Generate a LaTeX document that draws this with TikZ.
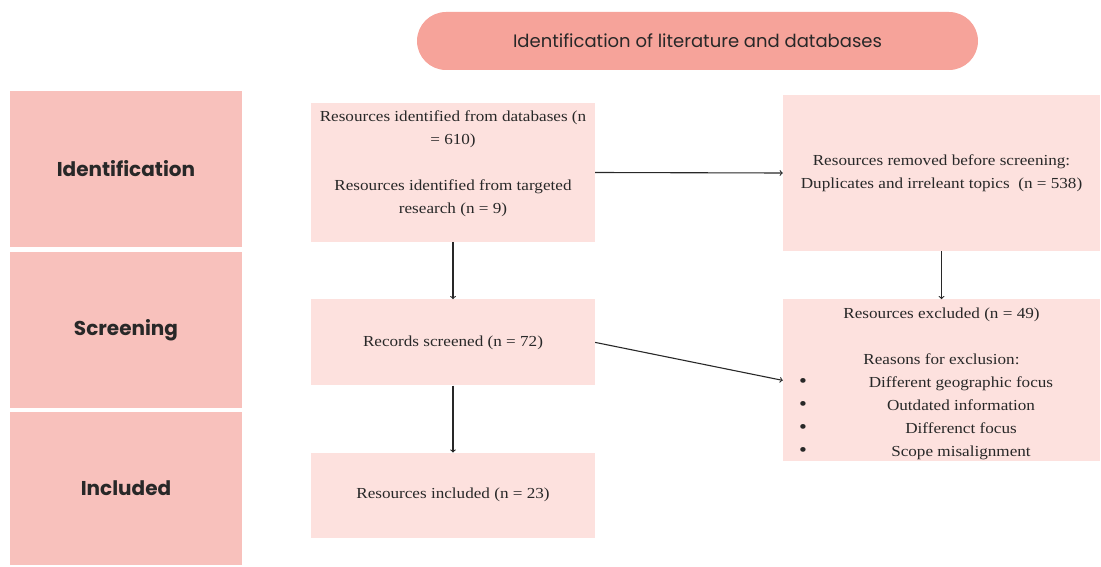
\documentclass[tikz,border=0pt]{standalone}
\usepackage{fontspec}
\setmainfont{Liberation Serif}[FakeStretch=1.12]
\newfontfamily\poppins{Poppins}
\usetikzlibrary{positioning}

\definecolor{pillred}{RGB}{246,163,154}
\definecolor{stagered}{RGB}{248,193,188}
\definecolor{boxpink}{RGB}{253,225,222}
\definecolor{inkgray}{RGB}{40,40,40}

% bullet line of the exclusion list
\newcommand\exclitem[1]{\makebox[317pt][l]{\hspace{16pt}\rlap{\fontsize{20}{23}\selectfont\textbullet}\hspace{23pt}\makebox[278pt]{#1}}}

\begin{document}
\begin{tikzpicture}[x=1pt, y=-1pt, ->, >=to, text=inkgray]
        \tikzstyle{pill} = [rectangle, rounded corners=29pt, minimum width=561pt, minimum height=58pt, fill=pillred, font=\poppins\fontsize{18}{21}\selectfont]
        \tikzstyle{stage} = [rectangle, minimum width=232pt, minimum height=156pt, fill=stagered, font=\poppins\bfseries\fontsize{20}{24}\selectfont]
        \tikzstyle{box} = [rectangle, minimum width=284pt, fill=boxpink, align=center, inner sep=0pt, font=\fontsize{15.3}{23}\selectfont]
        \tikzstyle{widebox} = [box, minimum width=317pt]
        \tikzstyle{arrow} = [draw=inkgray, line width=1.1pt, ->]

        \useasboundingbox (0,0) rectangle (1101,567);

        \node (title) [pill] at (697.5,41) {Identification of literature and databases};

        \node (identstage) [stage] at (126,169) {Identification};
        \node (screenstage) [stage] at (126,330) {Screening};
        \node (inclstage) [stage, minimum height=153pt] at (126,488.5) {Included};

        \node (ident) [box, minimum height=139pt] at (453,172.5) {Resources identified from databases (n\\= 610)\\[23pt]Resources identified from targeted\\research (n = 9)\\[-2pt]};
        \node (screen) [box, minimum height=86pt, below=57pt of ident] {Records screened (n = 72)};
        \node (incl) [box, minimum height=85pt, below=67pt of screen] {Resources included (n = 23)};

        \node (removed) [widebox, minimum height=156pt] at (941.5,173) {Resources removed before screening:\\Duplicates and irreleant topics~~(n = 538)};
        \node (excl) [widebox, minimum height=162pt, below=48pt of removed] {Resources excluded (n = 49)\\[23pt]Reasons for exclusion:\\\exclitem{Different geographic focus}\\\exclitem{Outdated information}\\\exclitem{Differenct focus}\\\exclitem{Scope misalignment}\\[-27pt]};

        \draw [arrow] (ident.east) -- (removed.west);
        \draw [arrow] (ident) -- (screen);
        \draw [arrow] (removed) -- (excl);
        \draw [arrow] (screen.east) -- (excl.west);
        \draw [arrow] (screen) -- (incl);
    \end{tikzpicture}
\end{document}
